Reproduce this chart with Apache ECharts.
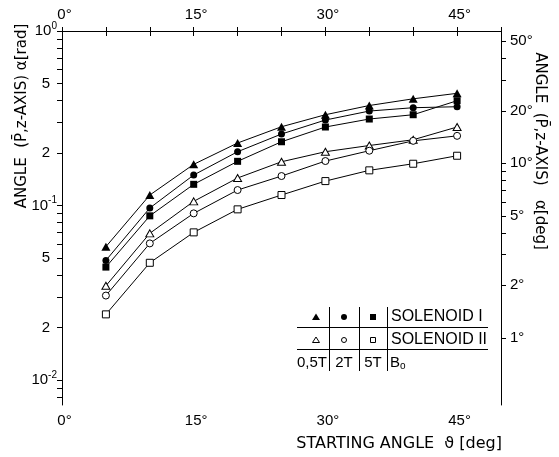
<!DOCTYPE html>
<html><head><meta charset="utf-8">
<script src="https://cdn.jsdelivr.net/npm/echarts@6/dist/echarts.min.js"></script>
<style>html,body{margin:0;padding:0;background:#fff}#c{width:559px;height:457px}</style>
</head><body><div id="c"></div>
<script>
// ---- data (angle alpha in rad vs. starting angle in deg) ----
const startAngles = [5, 10, 15, 20, 25, 30, 35, 40, 45];
const solI_05T  = [0.0581, 0.1149, 0.1722, 0.2282, 0.2828, 0.3314, 0.3742, 0.4088, 0.4395];
const solI_2T   = [0.0485, 0.0968, 0.1496, 0.2034, 0.2569, 0.3090, 0.3479, 0.3635, 0.3683];
const solI_5T   = [0.0444, 0.0873, 0.1323, 0.1792, 0.2320, 0.2818, 0.3131, 0.3314, 0.3987];
const solII_05T = [0.0347, 0.0693, 0.1057, 0.1438, 0.1782, 0.2034, 0.2208, 0.2382, 0.2818];
const solII_2T  = [0.0305, 0.0607, 0.0902, 0.1227, 0.1476, 0.1799, 0.2061, 0.2348, 0.2508];
const solII_5T  = [0.0238, 0.0470, 0.0702, 0.0951, 0.1149, 0.1381, 0.1591, 0.1736, 0.1929];

const xTickLabels = [0, 15, 30, 45];
const radTickLabels = [1, 0.5, 0.2, 0.1, 0.05, 0.02, 0.01];
const radMinorTicks = [1,0.9,0.8,0.7,0.6,0.5,0.4,0.3,0.2,0.1,0.09,0.08,0.07,0.06,0.05,0.04,0.03,0.02,0.01,0.009,0.008];
const degTickLabels = [50, 20, 10, 5, 2, 1];
const degMinorTicks = [50,40,30,20,10,9,8,7,6,5,4,3,2,1];
const yMin = 0.0072, yMax = 1;

const FONT = 'Liberation Sans';
const TFONT = 'DejaVu Sans';
const lg = v => Math.log10(v);
const degToLogRad = d => Math.log10(d * Math.PI / 180);

function pt(arr) { return startAngles.map((a, i) => [a, arr[i]]); }
function mk(name, data, symbol, filled, size) {
  return {
    name, type: 'line', xAxisIndex: 0, yAxisIndex: 0, data: pt(data),
    symbol, symbolSize: size, showSymbol: true,
    lineStyle: { color: '#000', width: 1 },
    itemStyle: filled ? { color: '#000', borderWidth: 0 } : { color: '#fff', borderColor: '#000', borderWidth: 1 },
    z: 3
  };
}

const chart = echarts.init(document.getElementById('c'), null, { renderer: 'canvas' });

const radLabelFmt = v => {
  let best = radTickLabels[0];
  radTickLabels.forEach(t => { if (Math.abs(Math.log10(t) - v) < Math.abs(Math.log10(best) - v)) best = t; });
  if (best === 1) return '{b|10}{s|0}';
  if (best === 0.1) return '{b|10}{s|-1}';
  if (best === 0.01) return '{b|10}{s|-2}';
  return '{m|' + Math.round(best / Math.pow(10, Math.floor(Math.log10(best) + 1e-9))) + '}';
};
const degLabelFmt = v => {
  let best = degTickLabels[0];
  degTickLabels.forEach(t => { if (Math.abs(degToLogRad(t) - v) < Math.abs(degToLogRad(best) - v)) best = t; });
  return best + '°';
};

const legendX = [316, 344, 373];
const row1 = 317, row2 = 340, row3 = 363;
const L = { stroke: '#000', lineWidth: 1 };
const graphics = [
  // axis titles
  { type: 'text', x: 22, y: 116, rotation: Math.PI / 2,
    style: { text: 'ANGLE  (P̄,z-AXIS) α[rad]', font: '15px ' + TFONT, fill: '#000', align: 'center', verticalAlign: 'middle' } },
  { type: 'text', x: 540, y: 151, rotation: -Math.PI / 2,
    style: { text: 'ANGLE  (P̄,z-AXIS)   α[deg]', font: '15px ' + TFONT, fill: '#000', align: 'center', verticalAlign: 'middle' } },
  { type: 'text', x: 502, y: 444,
    style: { text: 'STARTING ANGLE  ϑ [deg]', font: '16px ' + TFONT, fill: '#000', align: 'right', verticalAlign: 'middle' } },
  // legend table
  { type: 'line', shape: { x1: 297, y1: 327.5, x2: 488, y2: 327.5 }, style: L },
  { type: 'line', shape: { x1: 297, y1: 349.5, x2: 488, y2: 349.5 }, style: L },
  { type: 'line', shape: { x1: 329.5, y1: 307, x2: 329.5, y2: 371 }, style: L },
  { type: 'line', shape: { x1: 359.5, y1: 307, x2: 359.5, y2: 371 }, style: L },
  { type: 'line', shape: { x1: 387.5, y1: 307, x2: 387.5, y2: 371 }, style: L },
  { type: 'polygon', shape: { points: [[legendX[0], row1 - 3.5], [legendX[0] - 4, row1 + 3], [legendX[0] + 4, row1 + 3]] }, style: { fill: '#000' } },
  { type: 'circle', shape: { cx: legendX[1], cy: row1, r: 3 }, style: { fill: '#000' } },
  { type: 'rect', shape: { x: legendX[2] - 3, y: row1 - 3, width: 6, height: 6 }, style: { fill: '#000' } },
  { type: 'polygon', shape: { points: [[legendX[0], row2 - 3], [legendX[0] - 3.5, row2 + 2.5], [legendX[0] + 3.5, row2 + 2.5]] }, style: { fill: '#fff', stroke: '#000', lineWidth: 1 } },
  { type: 'circle', shape: { cx: legendX[1], cy: row2, r: 2.5 }, style: { fill: '#fff', stroke: '#000', lineWidth: 1 } },
  { type: 'rect', shape: { x: legendX[2] - 2.5, y: row2 - 2.5, width: 5, height: 5 }, style: { fill: '#fff', stroke: '#000', lineWidth: 1 } },
  { type: 'text', x: 391, y: row1, style: { text: 'SOLENOID I', font: '16px ' + FONT, fill: '#000', align: 'left', verticalAlign: 'middle' } },
  { type: 'text', x: 391, y: row2, style: { text: 'SOLENOID II', font: '16px ' + FONT, fill: '#000', align: 'left', verticalAlign: 'middle' } },
  { type: 'text', x: 312, y: row3, style: { text: '0,5T', font: '15px ' + FONT, fill: '#000', align: 'center', verticalAlign: 'middle' } },
  { type: 'text', x: 344, y: row3, style: { text: '2T', font: '15px ' + FONT, fill: '#000', align: 'center', verticalAlign: 'middle' } },
  { type: 'text', x: 373, y: row3, style: { text: '5T', font: '15px ' + FONT, fill: '#000', align: 'center', verticalAlign: 'middle' } },
  { type: 'text', x: 390, y: row3, style: { text: '{b|B}{s|o}', fill: '#000', align: 'left', verticalAlign: 'middle',
      rich: { b: { font: '15px ' + FONT, fill: '#000' }, s: { font: '10px ' + FONT, fill: '#000', padding: [6, 0, 0, 0] } } } }
];

const option = {
  animation: false,
  backgroundColor: '#fff',
  grid: { left: 62, top: 31, right: 58, bottom: 52, containLabel: false },
  xAxis: [
    { type: 'value', position: 'bottom', min: 0, max: 50, interval: 5,
      axisLine: { show: true, lineStyle: { color: '#000', width: 1 } },
      axisTick: { show: true, inside: false, length: 5, lineStyle: { color: '#000' } },
      axisLabel: { customValues: xTickLabels, formatter: '{value}°', margin: 8, color: '#000', fontFamily: FONT, fontSize: 15, padding: [0, 0, 0, 5] },
      splitLine: { show: false } },
    { type: 'value', position: 'top', min: 0, max: 50, interval: 5,
      axisLine: { show: true, lineStyle: { color: '#000', width: 1 } },
      axisTick: { show: true, inside: false, length: 4, lineStyle: { color: '#000' } },
      axisLabel: { customValues: xTickLabels, formatter: '{value}°', margin: 9, color: '#000', fontFamily: FONT, fontSize: 15, padding: [0, 0, 0, 5] },
      splitLine: { show: false } }
  ],
  yAxis: [
    { type: 'log', logBase: 10, position: 'left', min: yMin, max: yMax,
      axisLine: { show: true, lineStyle: { color: '#000', width: 1 } },
      axisTick: { show: false }, axisLabel: { show: false }, splitLine: { show: false }, minorTick: { show: false } },
    { type: 'value', position: 'left', min: lg(yMin), max: lg(yMax),
      axisLine: { show: false },
      axisTick: { show: true, inside: false, length: 5, customValues: radMinorTicks.map(lg), lineStyle: { color: '#000' } },
      axisLabel: { customValues: radTickLabels.map(lg), formatter: radLabelFmt, margin: 5, color: '#000',
        rich: { b: { fontFamily: FONT, fontSize: 15, color: '#000' },
                s: { fontFamily: FONT, fontSize: 10, color: '#000', padding: [0, 0, 10, 0] },
                m: { fontFamily: FONT, fontSize: 15, color: '#000', padding: [0, 7, 0, 0] } } },
      splitLine: { show: false } },
    { type: 'value', position: 'right', min: lg(yMin), max: lg(yMax),
      axisLine: { show: true, lineStyle: { color: '#000', width: 1 } },
      axisTick: { show: true, inside: false, length: 5, customValues: degMinorTicks.map(degToLogRad), lineStyle: { color: '#000' } },
      axisLabel: { customValues: degTickLabels.map(degToLogRad), formatter: degLabelFmt, margin: 9, color: '#000', fontFamily: FONT, fontSize: 15 },
      splitLine: { show: false } }
  ],
  series: [
    mk('Solenoid I 0.5T', solI_05T, 'triangle', true, [9, 8]),
    mk('Solenoid I 2T', solI_2T, 'circle', true, 7),
    mk('Solenoid I 5T', solI_5T, 'rect', true, 7),
    mk('Solenoid II 0.5T', solII_05T, 'triangle', false, [8, 7]),
    mk('Solenoid II 2T', solII_2T, 'circle', false, 7),
    mk('Solenoid II 5T', solII_5T, 'rect', false, 7)
  ],
  graphic: graphics
};
chart.setOption(option);
</script></body></html>
